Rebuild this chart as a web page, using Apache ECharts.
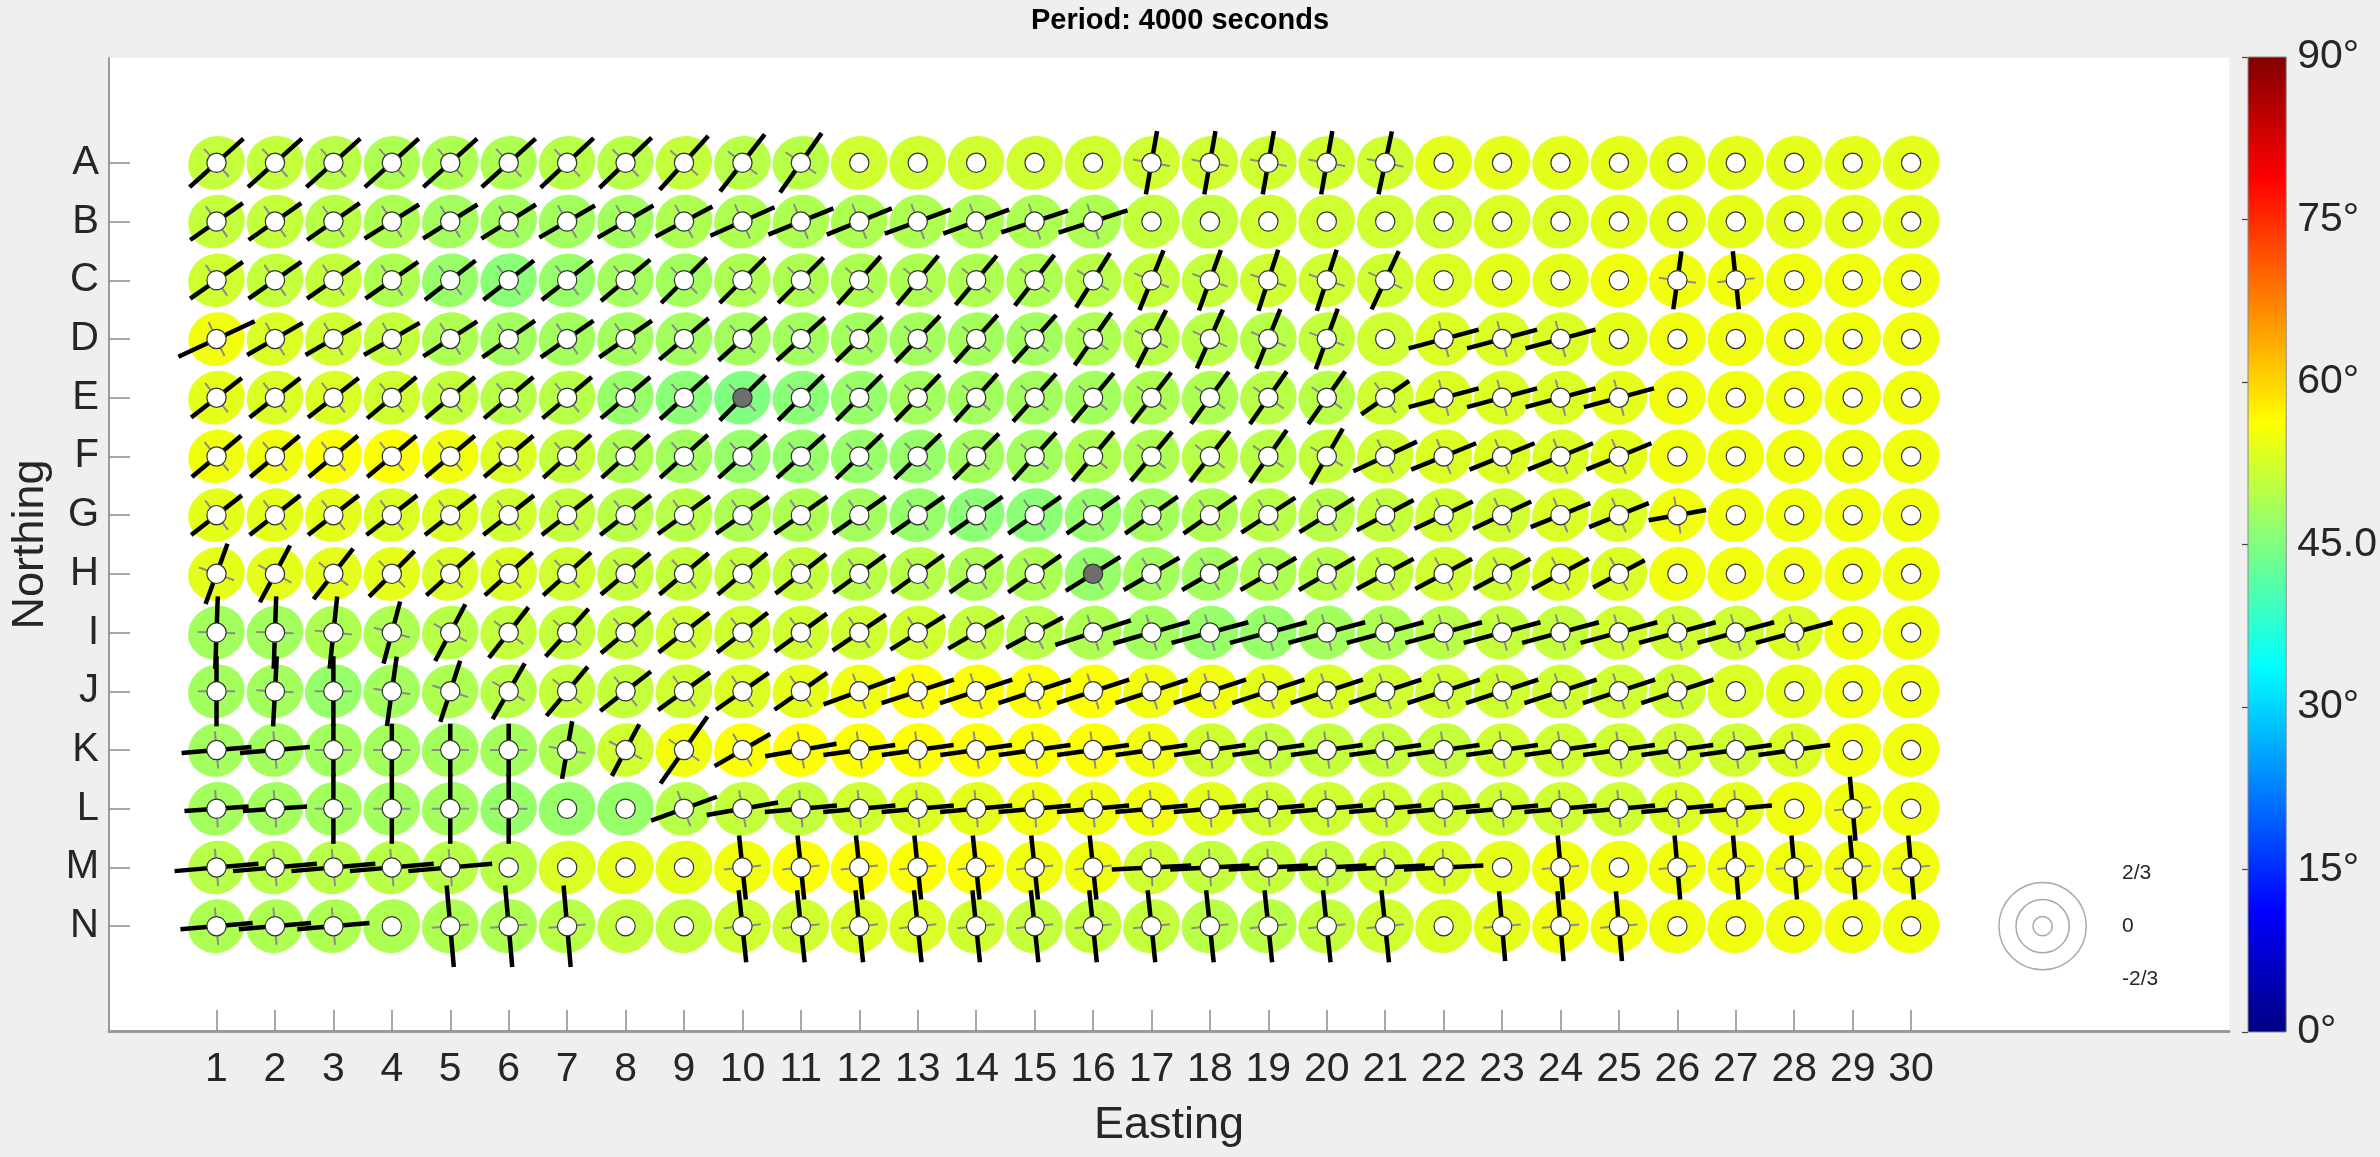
<!DOCTYPE html>
<html>
<head>
<meta charset="utf-8">
<script src="https://cdn.jsdelivr.net/npm/echarts@6/dist/echarts.min.js"></script>
<style>
  html, body { margin: 0; padding: 0; background: #efefef; }
  #chart { width: 2380px; height: 1157px; }
</style>
</head>
<body>
<div id="chart"></div>
<script>
// grid labels
const eastings = [1, 2, 3, 4, 5, 6, 7, 8, 9, 10, 11, 12, 13, 14, 15, 16, 17, 18, 19, 20, 21, 22, 23, 24, 25, 26, 27, 28, 29, 30];
const northings = ['A', 'B', 'C', 'D', 'E', 'F', 'G', 'H', 'I', 'J', 'K', 'L', 'M', 'N'];

// ellipse colour value (degrees), one row per northing
const phase = [
  [51,51,50,49,49,49,50,50,51,50, 50,52,52,52,52,52,52,52,52,52, 52,54,54,54,54,54,54,54,54,54],
  [51,51,50,49,48,48,48,48,49,49, 49,49,49,49,49,49,51,51,52,52, 52,52,53,53,54,54,54,54,54,54],
  [52,51,51,49,47,46,47,48,48,49, 49,49,49,49,49,50,51,51,52,52, 52,53,54,54,55,55,55,55,55,55],
  [55,53,52,51,49,48,48,48,48,48, 48,48,48,48,48,49,50,50,50,51, 52,53,53,53,54,55,55,55,55,55],
  [54,53,53,52,51,50,50,47,46,45, 46,47,48,48,48,48,49,49,50,50, 52,53,53,53,54,55,55,55,55,55],
  [55,55,56,56,55,53,51,49,48,47, 47,47,47,48,48,49,49,50,50,51, 52,53,53,53,54,55,55,55,55,55],
  [54,54,54,53,53,52,51,50,50,49, 49,48,47,46,46,47,48,49,50,50, 51,52,52,53,53,55,55,55,55,55],
  [54,54,54,54,53,53,52,51,51,51, 51,50,50,49,49,47,48,48,49,50, 51,52,52,53,53,55,55,55,55,55],
  [48,48,49,49,50,51,51,51,52,52, 52,52,52,51,50,49,48,47,47,48, 49,50,51,51,52,52,52,53,55,55],
  [48,48,47,48,49,50,51,51,52,53, 54,55,56,56,56,56,55,55,54,53, 52,52,52,52,52,52,53,54,55,55],
  [48,48,48,48,48,48,49,52,55,56, 56,56,56,56,56,56,55,52,51,51, 51,51,52,52,52,52,52,53,55,55],
  [48,48,48,48,48,47,47,47,50,51, 51,52,53,54,55,55,55,54,52,52, 52,52,52,52,52,53,54,55,55,55],
  [50,50,50,50,50,50,53,54,54,55, 56,56,56,56,55,55,52,51,51,51, 52,53,54,55,55,55,55,55,55,55],
  [49,49,49,49,49,49,50,51,51,52, 52,53,53,52,51,51,51,50,50,51, 52,53,54,55,55,55,55,55,55,55]
];

// bar direction (degrees counter-clockwise from east), null where no bar is drawn
const tipAngle = [
  [42,42,42,42,42,42,43,44,48,52, 55,null,null,null,null,null,80,80,80,80, 78,null,null,null,null,null,null,null,null,null],
  [35,35,35,32,32,32,30,30,28,24, 22,22,20,20,18,18,null,null,null,null, null,null,null,null,null,null,null,null,null,null],
  [35,35,35,35,38,38,38,40,45,45, 45,48,50,50,52,58,68,70,72,72, 65,null,null,null,null,82,96,null,null,null],
  [25,30,30,30,33,35,35,35,40,42, 42,44,46,48,48,55,63,66,68,70, null,15,15,15,null,null,null,null,null,null],
  [38,38,38,40,40,40,40,40,42,45, 45,45,46,48,48,50,52,54,55,55, 35,15,15,15,15,null,null,null,null,null],
  [40,40,40,40,40,40,42,42,42,42, 42,44,44,45,48,50,50,52,55,60, 25,22,22,22,22,null,null,null,null,null],
  [38,38,38,38,38,38,38,38,36,35, 35,35,35,35,35,35,35,35,33,32, 28,25,25,22,22,10,null,null,null,null],
  [70,62,52,45,42,42,42,40,40,40, 38,36,36,35,35,32,30,30,30,30, 28,28,28,28,28,null,null,null,null,null],
  [88,88,84,75,62,52,48,40,38,38, 36,34,32,30,28,18,16,15,15,15, 15,15,15,15,15,15,15,15,null,null],
  [90,87,90,82,72,60,50,38,36,35, 35,20,18,18,18,18,18,18,18,18, 18,18,18,18,18,18,null,null,null,null],
  [5,5,90,90,90,90,80,62,55,30, 10,8,8,8,8,8,8,8,8,8, 8,8,8,8,8,8,8,8,null,null],
  [4,4,90,90,90,90,null,null,20,10, 5,5,5,5,5,5,5,5,5,5, 5,5,5,5,5,5,5,null,95,null],
  [5,5,5,5,5,null,null,null,null,96, 96,96,96,96,96,96,3,3,3,3, 3,3,null,95,null,95,95,95,95,95],
  [5,5,5,null,95,95,95,null,null,96, 96,96,96,96,96,96,96,96,96,96, 96,null,95,95,95,null,null,null,null,null]
];

// bar half-length in grid units
const tipLength = [
  [.62,.62,.62,.62,.62,.62,.62,.62,.62,.62, .62,0,0,0,0,0,.55,.55,.55,.55, .55,0,0,0,0,0,0,0,0,0],
  [.55,.55,.55,.55,.55,.55,.55,.55,.55,.6, .6,.6,.6,.6,.6,.62,0,0,0,0, 0,0,0,0,0,0,0,0,0,0],
  [.55,.55,.55,.55,.55,.55,.55,.55,.55,.55, .55,.55,.55,.55,.55,.55,.55,.55,.55,.55, .55,0,0,0,0,.5,.5,0,0,0],
  [.72,.55,.55,.55,.55,.55,.55,.55,.55,.55, .55,.55,.55,.55,.55,.55,.55,.55,.55,.55, 0,.62,.62,.62,0,0,0,0,0,0],
  [.55,.55,.55,.55,.55,.55,.55,.55,.55,.55, .55,.55,.55,.55,.55,.55,.55,.55,.55,.55, .5,.62,.62,.62,.62,0,0,0,0,0],
  [.55,.55,.55,.55,.55,.55,.55,.55,.55,.55, .55,.55,.55,.55,.55,.55,.55,.55,.55,.55, .6,.6,.6,.6,.6,0,0,0,0,0],
  [.55,.55,.55,.55,.55,.55,.55,.55,.55,.55, .55,.55,.55,.55,.55,.55,.55,.55,.55,.55, .55,.55,.55,.55,.55,.5,0,0,0,0],
  [.55,.55,.55,.55,.55,.55,.55,.55,.55,.55, .55,.55,.55,.55,.55,.55,.55,.55,.55,.55, .55,.55,.55,.55,.5,0,0,0,0,0],
  [.62,.62,.62,.55,.55,.55,.55,.55,.55,.55, .55,.55,.55,.55,.55,.68,.68,.68,.68,.68, .68,.68,.68,.68,.68,.68,.68,.68,0,0],
  [.6,.6,.6,.6,.55,.55,.55,.55,.55,.55, .55,.65,.65,.65,.65,.65,.65,.65,.65,.65, .65,.65,.65,.65,.65,.65,0,0,0,0],
  [.6,.6,.45,.45,.45,.45,.5,.5,.7,.55, .62,.62,.62,.62,.62,.62,.62,.62,.62,.62, .62,.62,.62,.62,.62,.62,.62,.62,0,0],
  [.55,.55,.6,.6,.6,.6,0,0,.6,.62, .62,.62,.62,.62,.62,.62,.62,.62,.62,.62, .62,.62,.62,.62,.62,.62,.62,0,.55,0],
  [.72,.72,.72,.72,.72,0,0,0,0,.55, .55,.55,.55,.55,.55,.55,.68,.68,.68,.68, .68,.68,0,.55,0,.55,.55,.55,.55,.55],
  [.62,.62,.62,0,.7,.7,.7,0,0,.62, .62,.62,.62,.62,.62,.62,.62,.62,.62,.62, .62,0,.6,.6,.6,0,0,0,0,0]
];

// stations drawn with a grey centre
const markedStations = [['E', 10], ['H', 16]];

// colour bar
const colorTicks = [0, 15, 30, 45, 60, 75, 90];
const jetColors = ['#000080', '#0000ff', '#0080ff', '#00ffff', '#80ff80', '#ffff00', '#ff8000', '#ff0000', '#800000'];

// scale key
const keyCenter = [32.25, 14];
const keyRadii = [0.165, 0.455, 0.747];
const keyLabels = ['2/3', '0', '-2/3'];
const keyLabelRows = [13.1, 14, 14.9];

const FONT = '"Liberation Sans", Arial, Helvetica, sans-serif';
const TEXT = '#262626';
const AXIS = '#9a9a9a';

const cells = [];
northings.forEach((row, r) => {
  eastings.forEach((e, c) => {
    cells.push([e, r + 1, phase[r][c]]);
  });
});

function isMarked(r, c) {
  return markedStations.some(m => m[0] === northings[r] && m[1] === eastings[c]);
}

function renderEllipse(params, api) {
  const p = api.coord([api.value(0), api.value(1)]);
  const s = api.size([1, 1]);
  return {
    type: 'ellipse',
    x: p[0],
    y: p[1],
    rotation: 25 * Math.PI / 180,
    shape: { cx: 0, cy: 0, rx: 0.49 * s[0], ry: 0.45 * s[1] },
    style: { fill: api.visual('color') }
  };
}

function renderGlyph(params, api) {
  const r = Math.floor(params.dataIndex / eastings.length);
  const c = params.dataIndex % eastings.length;
  const p = api.coord([api.value(0), api.value(1)]);
  const unit = api.size([1, 1])[0];
  const inner = keyRadii[0] * unit;
  const children = [];
  const ang = tipAngle[r][c];
  if (ang !== null) {
    const a = ang * Math.PI / 180;
    for (let k = 0; k < 4; k++) {
      const b = a + k * Math.PI / 2;
      const ux = Math.cos(b), uy = -Math.sin(b);
      children.push({
        type: 'line',
        shape: { x1: p[0] + ux * inner, y1: p[1] + uy * inner, x2: p[0] + ux * 0.32 * unit, y2: p[1] + uy * 0.32 * unit },
        style: { stroke: '#8c8c8c', lineWidth: 2 }
      });
    }
    const L = tipLength[r][c] * unit;
    const dx = Math.cos(a) * L, dy = -Math.sin(a) * L;
    children.push({
      type: 'line',
      shape: { x1: p[0] - dx, y1: p[1] - dy, x2: p[0] + dx, y2: p[1] + dy },
      style: { stroke: '#000', lineWidth: 4.5 }
    });
  }
  children.push({
    type: 'circle',
    shape: { cx: p[0], cy: p[1], r: inner },
    style: { fill: isMarked(r, c) ? '#6e6e6e' : '#fff', stroke: '#333', lineWidth: 1.2 }
  });
  return { type: 'group', children: children };
}

function renderKey(params, api) {
  const p = api.coord(keyCenter);
  const unit = api.size([1, 1])[0];
  const children = keyRadii.map(rad => ({
    type: 'circle',
    shape: { cx: p[0], cy: p[1], r: rad * unit },
    style: { fill: 'none', stroke: '#a8a8a8', lineWidth: 1.5 }
  }));
  keyLabels.forEach((t, i) => {
    const q = api.coord([33.61, keyLabelRows[i]]);
    children.push({
      type: 'text',
      x: q[0], y: q[1],
      style: { text: t, fontSize: 21, fontFamily: FONT, fill: TEXT, align: 'left', verticalAlign: 'middle' }
    });
  });
  return { type: 'group', children: children };
}

function renderColorBar(params, api) {
  const p0 = api.coord([0, colorTicks[0]]);
  const p1 = api.coord([1, colorTicks[colorTicks.length - 1]]);
  const stops = jetColors.map((col, i) => ({ offset: i / (jetColors.length - 1), color: col }));
  return {
    type: 'rect',
    shape: { x: p0[0], y: p1[1], width: p1[0] - p0[0], height: p0[1] - p1[1] },
    style: { fill: new echarts.graphic.LinearGradient(0, 1, 0, 0, stops), stroke: '#8a8a8a', lineWidth: 1 }
  };
}

const chart = echarts.init(document.getElementById('chart'));
chart.setOption({
  backgroundColor: '#efefef',
  animation: false,
  textStyle: { fontFamily: FONT },
  graphic: [{
    type: 'text',
    x: 1180,
    y: 21,
    style: { text: 'Period: 4000 seconds', fontSize: 29, fontWeight: 'bold', fontFamily: FONT, fill: '#000', align: 'center', verticalAlign: 'middle' }
  }],
  grid: [
    { left: 102, top: 58, width: 2127, height: 973, show: true, backgroundColor: '#fff', borderWidth: 0 },
    { left: 2248, top: 57, width: 44, height: 975 }
  ],
  xAxis: [
    {
      type: 'value',
      gridIndex: 0,
      min: -0.84,
      max: 35.44,
      name: 'Easting',
      nameLocation: 'middle',
      nameGap: 72,
      nameTextStyle: { fontSize: 45, color: TEXT },
      axisLine: { onZero: false, lineStyle: { color: AXIS, width: 3 } },
      axisTick: { inside: true, length: 21, customValues: eastings, lineStyle: { color: '#8a8a8a', width: 1.5 } },
      axisLabel: { customValues: eastings, fontSize: 41, color: TEXT, margin: 18 },
      splitLine: { show: false }
    },
    { type: 'value', gridIndex: 1, min: 0, max: 1, show: false }
  ],
  yAxis: [
    {
      type: 'value',
      gridIndex: 0,
      inverse: true,
      min: -0.785,
      max: 15.785,
      name: 'Northing',
      nameLocation: 'middle',
      nameGap: 56,
      nameTextStyle: { fontSize: 45, color: TEXT },
      axisLine: { onZero: false, lineStyle: { color: AXIS, width: 2 } },
      axisTick: { inside: true, length: 21, customValues: northings.map((n, i) => i + 1), lineStyle: { color: '#8a8a8a', width: 1.5 } },
      axisLabel: {
        customValues: northings.map((n, i) => i + 1),
        formatter: v => northings[Math.round(v) - 1],
        fontSize: 40, color: TEXT, margin: 10
      },
      splitLine: { show: false }
    },
    {
      type: 'value',
      gridIndex: 1,
      position: 'right',
      min: 0,
      max: 90,
      interval: 15,
      axisLine: { show: false },
      axisTick: { inside: true, length: 6, lineStyle: { color: '#444', width: 1.2 } },
      axisLabel: { formatter: v => (v === 45 ? '45.0' : v + '°'), fontSize: 41, color: TEXT, margin: 11 },
      splitLine: { show: false }
    }
  ],
  visualMap: {
    show: false,
    type: 'continuous',
    seriesIndex: 0,
    dimension: 2,
    min: colorTicks[0],
    max: colorTicks[colorTicks.length - 1],
    inRange: { color: jetColors }
  },
  series: [
    { type: 'custom', name: 'ellipses', xAxisIndex: 0, yAxisIndex: 0, renderItem: renderEllipse, data: cells, silent: true },
    { type: 'custom', name: 'bars', xAxisIndex: 0, yAxisIndex: 0, renderItem: renderGlyph, data: cells, silent: true },
    { type: 'custom', name: 'key', xAxisIndex: 0, yAxisIndex: 0, renderItem: renderKey, data: [keyCenter], silent: true, clip: false },
    { type: 'custom', name: 'colorbar', xAxisIndex: 1, yAxisIndex: 1, renderItem: renderColorBar, data: [[0, 0]], silent: true, clip: false }
  ]
});
</script>
</body>
</html>
